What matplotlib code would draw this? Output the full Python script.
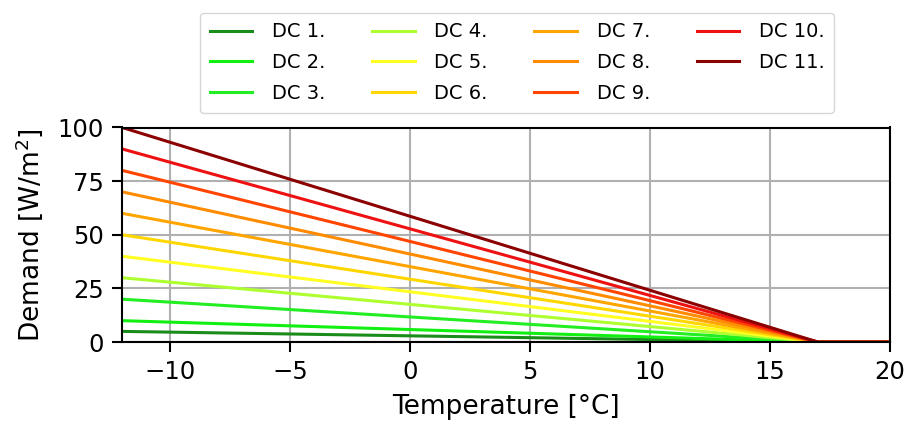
import matplotlib
matplotlib.use("Agg")
import matplotlib.pyplot as plt

# temperature break points [°C]
temps = [-12, 17, 20]

# demand at each break point [W/m2]
names = ["DC 1.", "DC 2.", "DC 3.", "DC 4.", "DC 5.", "DC 6.",
         "DC 7.", "DC 8.", "DC 9.", "DC 10.", "DC 11."]
demand = [
    [5, 0, 0],
    [10, 0, 0],
    [20, 0, 0],
    [30, 0, 0],
    [40, 0, 0],
    [50, 0, 0],
    [60, 0, 0],
    [70, 0, 0],
    [80, 0, 0],
    [90, 0, 0],
    [100, 0, 0],
]
colors = ["#1a8c1a", "#11f011", "#22ee22", "#adff2f", "#ffff22", "#ffd700",
          "#ffa500", "#ff8c00", "#ff4500", "#ee1111", "#8b0000"]

fig = plt.figure(figsize=(9.12, 4.25), dpi=100)
ax = fig.add_axes([0.134, 0.195, 0.842, 0.505])

for n, d, c in zip(names, demand, colors):
    ax.plot(temps, d, color=c, lw=2.2, label=n)

ax.set_xlim(-12, 20)
ax.set_ylim(0, 100)
ax.set_xticks([-10, -5, 0, 5, 10, 15, 20])
ax.set_yticks([0, 25, 50, 75, 100])
ax.grid(True, color="#b0b0b0", lw=1.5)
ax.tick_params(labelsize=17.5, width=1.5, length=7, pad=6)
for s in ax.spines.values():
    s.set_linewidth(1.5)
ax.set_xlabel("Temperature [°C]", fontsize=19, labelpad=7)
ax.set_ylabel("Demand [W/m$^2$]", fontsize=19, labelpad=9)

fig.legend(loc="upper center", bbox_to_anchor=(0.567, 0.97), ncol=4,
           fontsize=14, handlelength=2.2, handletextpad=1.0,
           columnspacing=2.4, labelspacing=0.6, borderpad=0.5,
           borderaxespad=0)

fig.savefig("out.png", dpi=100)
